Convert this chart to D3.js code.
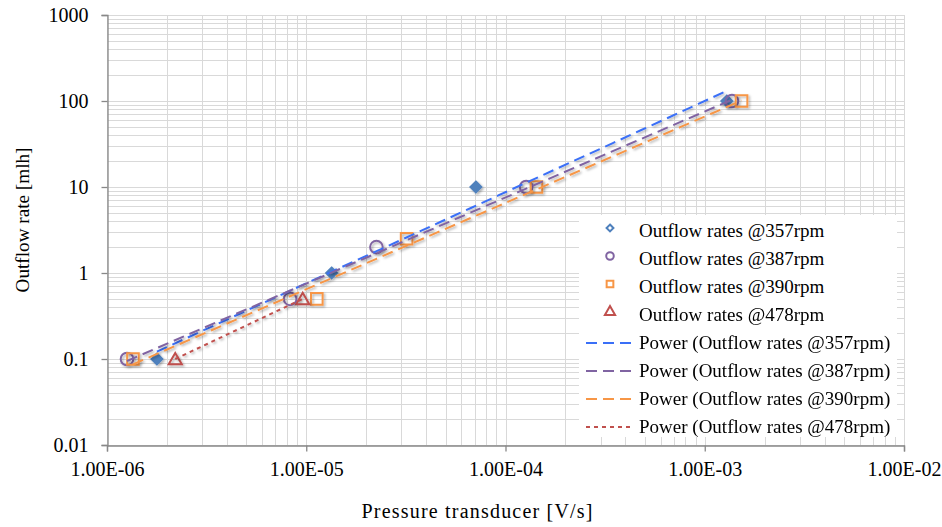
<!DOCTYPE html>
<html>
<head>
<meta charset="utf-8">
<script src="https://cdn.jsdelivr.net/npm/d3@7"></script>
<style>
  body { margin: 0; background: #fff; }
  svg { font-family: "Liberation Serif", "Times New Roman", serif; }
</style>
</head>
<body>
<svg id="chart" width="942" height="527"></svg>
<script>
'use strict';

var rpm357X = [1.78e-6, 1.34e-5, 7.1e-5, 1.29e-3],
  rpm357Y = [0.1, 1, 10, 100];
var rpm387X = [1.26e-6, 8.3e-6, 2.25e-5, 1.27e-4, 1.37e-3],
  rpm387Y = [0.1, 0.5, 2, 10, 100];
var rpm390X = [1.35e-6, 1.13e-5, 3.19e-5, 1.43e-4, 1.53e-3],
  rpm390Y = [0.1, 0.5, 2.5, 10, 100];
var rpm478X = [2.2e-6, 9.6e-6],
  rpm478Y = [0.1, 0.5];

var xTicks = [1e-6, 1e-5, 1e-4, 1e-3, 1e-2];
var yTicks = [0.01, 0.1, 1, 10, 100, 1000];
var seriesNames = ['@357rpm', '@387rpm', '@390rpm', '@478rpm'];

var series = [
  { name: seriesNames[0], xs: rpm357X, ys: rpm357Y, symbol: d3.symbolDiamond2, size: 75, color: '#4f81bd', trend: '#3a6ff7', dash: '11,6', filled: true },
  { name: seriesNames[1], xs: rpm387X, ys: rpm387Y, symbol: d3.symbolCircle, size: 125, color: '#8064a2', trend: '#8064a2', dash: '11,6' },
  { name: seriesNames[2], xs: rpm390X, ys: rpm390Y, symbol: d3.symbolSquare, size: 135, color: '#f79646', trend: '#f79646', dash: '11,6' },
  { name: seriesNames[3], xs: rpm478X, ys: rpm478Y, symbol: d3.symbolTriangle, size: 75, color: '#c0504d', trend: '#c0504d', dash: '4,4' }
];

var plotL = 107, plotR = 904, plotT = 15, plotB = 445;

var x = d3.scaleLog().domain([1e-6, 1e-2]).range([plotL, plotR]);
var y = d3.scaleLog().domain([0.01, 1000]).range([plotB, plotT]);

var svg = d3.select('#chart');

var defs = svg.append('defs');
var shadow = defs.append('filter').attr('id', 'shadow')
  .attr('x', '-50%').attr('y', '-50%').attr('width', '200%').attr('height', '200%');
shadow.append('feDropShadow')
  .attr('dx', 1.5).attr('dy', 1.5).attr('stdDeviation', 1.2)
  .attr('flood-color', '#000').attr('flood-opacity', 0.3);

// minor + major grid
function minorValues(domain) {
  var out = [];
  for (var e = Math.round(Math.log10(domain[0])); e < Math.round(Math.log10(domain[1])); e++) {
    for (var m = 1; m <= 9; m++) out.push(m * Math.pow(10, e));
  }
  out.push(domain[1]);
  return out;
}

var grid = svg.append('g').attr('stroke', '#d9d9d9').attr('stroke-width', 1);
grid.selectAll('.gx').data(minorValues(x.domain())).enter().append('line')
  .attr('x1', function (d) { return Math.round(x(d)) + 0.5; })
  .attr('x2', function (d) { return Math.round(x(d)) + 0.5; })
  .attr('y1', plotT).attr('y2', plotB);
grid.selectAll('.gy').data(minorValues(y.domain())).enter().append('line')
  .attr('y1', function (d) { return Math.round(y(d)) + 0.5; })
  .attr('y2', function (d) { return Math.round(y(d)) + 0.5; })
  .attr('x1', plotL).attr('x2', plotR);

// axes
var xAxis = d3.axisBottom(x).tickValues(xTicks).tickSize(6).tickFormat(function (d) {
  return d.toExponential(2).toUpperCase().replace(/E([+-])(\d)$/, 'E$10$2');
});
var yAxis = d3.axisLeft(y).tickValues(yTicks).tickSize(6).tickFormat(function (d) { return String(d); });

var gx = svg.append('g').attr('transform', 'translate(0,' + (plotB + 0.5) + ')').call(xAxis);
var gy = svg.append('g').attr('transform', 'translate(' + (plotL + 0.5) + ',0)').call(yAxis);
[gx, gy].forEach(function (g) {
  g.select('.domain').attr('stroke', '#888').attr('stroke-width', 1.3);
  g.selectAll('.tick line').attr('stroke', '#888').attr('stroke-width', 1.3);
  g.selectAll('.tick text').attr('fill', '#000').style('font-size', '20px')
    .style('font-family', '"Liberation Serif", serif');
});
gx.selectAll('.tick text').attr('dy', '1.05em');
gy.selectAll('.tick text').attr('x', -19).attr('dy', '0.34em');

svg.append('text').attr('x', 477).attr('y', 518).attr('text-anchor', 'middle')
  .attr('textLength', 231).attr('lengthAdjust', 'spacing')
  .style('font-size', '20px').text('Pressure transducer [V/s]');
svg.append('text').attr('transform', 'translate(29,220) rotate(-90)').attr('text-anchor', 'middle')
  .style('font-size', '19.2px').text('Outflow rate [mlh]');

// power trend lines (least squares in log-log space, from min x to max x)
function powerFit(xs, ys) {
  var lx = xs.map(Math.log), ly = ys.map(Math.log);
  var mx = d3.mean(lx), my = d3.mean(ly);
  var b = d3.sum(lx, function (v, i) { return (v - mx) * (ly[i] - my); }) /
    d3.sum(lx, function (v) { return (v - mx) * (v - mx); });
  var a = Math.exp(my - b * mx);
  return function (v) { return a * Math.pow(v, b); };
}

series.forEach(function (s) {
  var f = powerFit(s.xs, s.ys);
  var ext = d3.extent(s.xs);
  s.trendPts = d3.range(0, 21).map(function (i) {
    var v = Math.exp(Math.log(ext[0]) + (Math.log(ext[1]) - Math.log(ext[0])) * i / 20);
    return [v, f(v)];
  });
});

var plot = svg.append('g');

series.forEach(function (s) {
  var pts = s.xs.map(function (v, i) { return [v, s.ys[i]]; });
  plot.append('g').attr('filter', 'url(#shadow)').selectAll('path').data(pts).enter().append('path')
    .attr('transform', function (d) {
      var dy = s.symbol === d3.symbolTriangle ? 1.5 : 0;
      return 'translate(' + x(d[0]) + ',' + (y(d[1]) + dy) + ')';
    })
    .attr('d', d3.symbol().type(s.symbol).size(s.size))
    .attr('fill', s.filled ? s.color : 'none')
    .attr('stroke', s.color).attr('stroke-width', 2);
});

var line = d3.line().x(function (d) { return x(d[0]); }).y(function (d) { return y(d[1]); });
series.forEach(function (s) {
  plot.append('path').datum(s.trendPts).attr('d', line)
    .attr('fill', 'none').attr('stroke', s.trend).attr('stroke-width', 2)
    .attr('stroke-dasharray', s.dash).attr('filter', 'url(#shadow)');
});

// legend
var lg = svg.append('g');
lg.append('rect').attr('x', 579).attr('y', 215).attr('width', 318).attr('height', 222).attr('fill', '#fff');
var rowY = 231, rowH = 28;
series.forEach(function (s, i) {
  var yy = rowY + i * rowH;
  lg.append('path').attr('transform', 'translate(610,' + (yy - 3) + ')')
    .attr('d', d3.symbol().type(s.symbol).size(s.filled ? 30 : 45))
    .attr('fill', 'none').attr('stroke', s.color).attr('stroke-width', 2);
  lg.append('text').attr('x', 639).attr('y', yy).attr('dy', '0.32em')
    .style('font-size', '19px').text('Outflow rates ' + s.name);
});
series.forEach(function (s, i) {
  var yy = rowY + (i + 4) * rowH;
  lg.append('line').attr('x1', 586).attr('x2', 634).attr('y1', yy).attr('y2', yy)
    .attr('stroke', s.trend).attr('stroke-width', 2).attr('stroke-dasharray', s.dash);
  lg.append('text').attr('x', 639).attr('y', yy).attr('dy', '0.32em')
    .style('font-size', '19px').text('Power (Outflow rates ' + s.name + ')');
});
</script>
</body>
</html>
